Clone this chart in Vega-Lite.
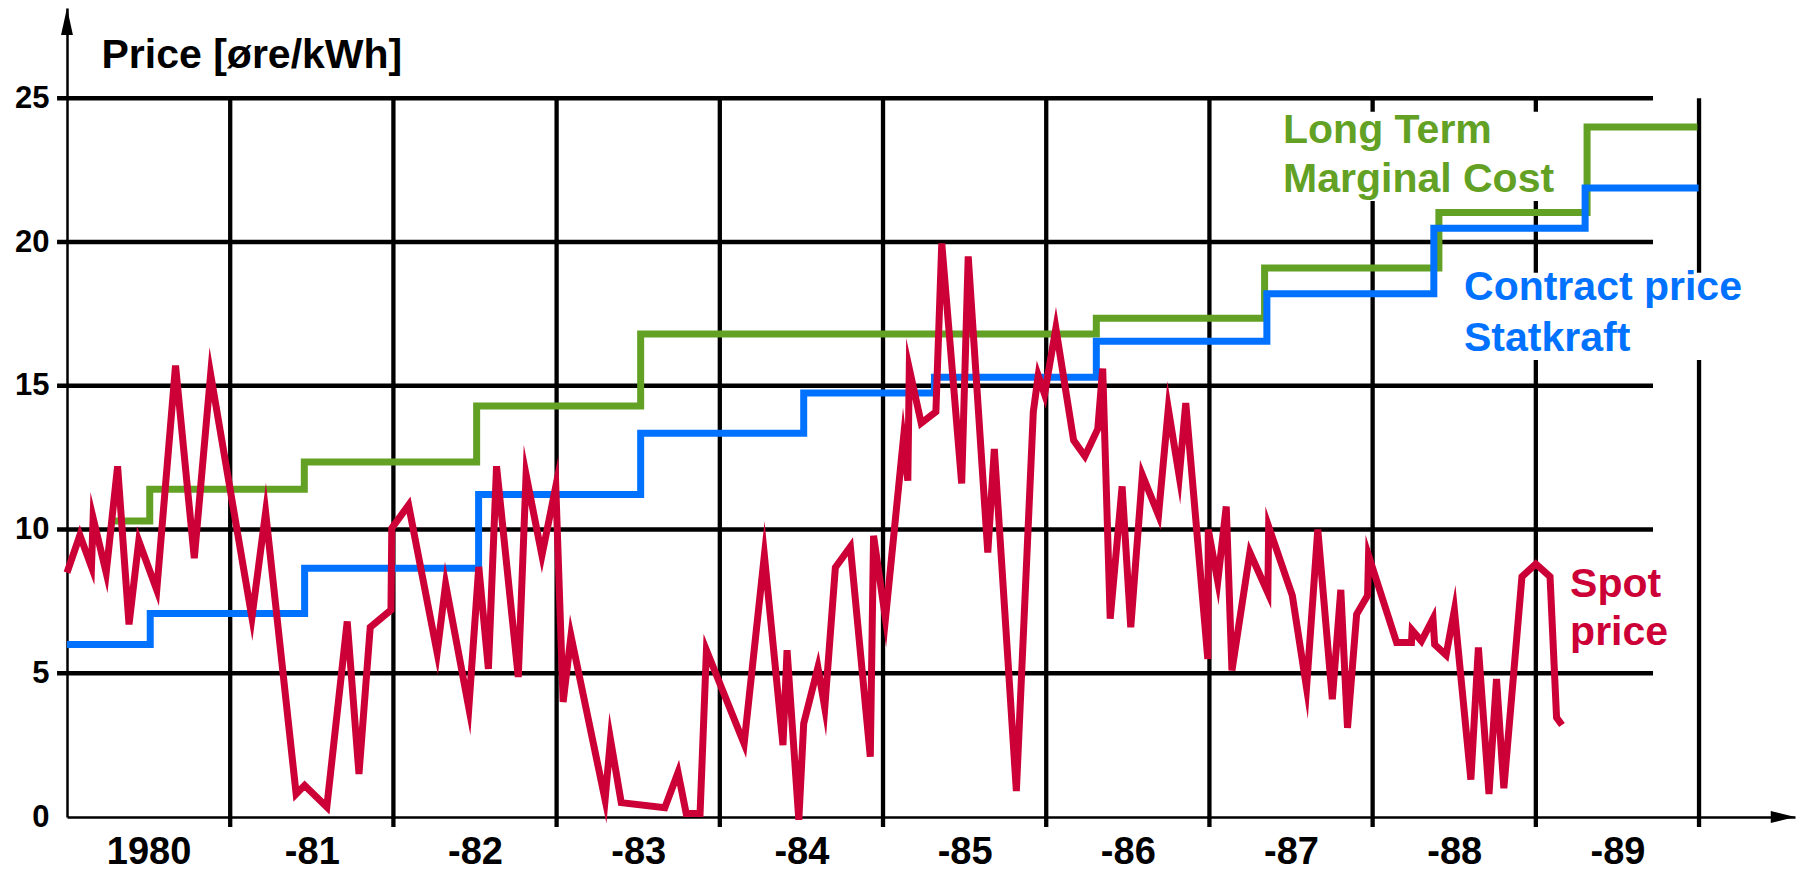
{
  "$schema": "https://vega.github.io/schema/vega-lite/v6.json",
  "width": 1728,
  "height": 809,
  "padding": {"left": 67, "top": 8, "right": 8, "bottom": 55},
  "autosize": {"type": "none"},
  "background": "white",
  "config": {
    "view": {"stroke": null},
    "font": "Liberation Sans"
  },
  "resolve": {"axis": {"x": "independent", "y": "independent"}},
  "datasets": {
    "gridYears": [{"year": 1981}, {"year": 1982}, {"year": 1983}, {"year": 1984}, {"year": 1985}, {"year": 1986}, {"year": 1987}, {"year": 1988}, {"year": 1989}, {"year": 1990}],
    "gridLevels": [{"level": 5}, {"level": 10}, {"level": 15}, {"level": 20}, {"level": 25}],
    "prices": [
      {"series": "Long Term Marginal Cost", "year": 1980.27, "price": 10.3},
      {"series": "Long Term Marginal Cost", "year": 1980.507, "price": 11.4},
      {"series": "Long Term Marginal Cost", "year": 1981.454, "price": 12.35},
      {"series": "Long Term Marginal Cost", "year": 1982.51, "price": 14.3},
      {"series": "Long Term Marginal Cost", "year": 1983.515, "price": 16.8},
      {"series": "Long Term Marginal Cost", "year": 1986.307, "price": 17.35},
      {"series": "Long Term Marginal Cost", "year": 1987.338, "price": 19.1},
      {"series": "Long Term Marginal Cost", "year": 1988.406, "price": 21.03},
      {"series": "Long Term Marginal Cost", "year": 1989.314, "price": 24.0},
      {"series": "Long Term Marginal Cost", "year": 1989.99, "price": 24.0},
      {"series": "Contract price Statkraft", "year": 1980.0, "price": 6.0},
      {"series": "Contract price Statkraft", "year": 1980.51, "price": 7.08},
      {"series": "Contract price Statkraft", "year": 1981.456, "price": 8.65},
      {"series": "Contract price Statkraft", "year": 1982.522, "price": 11.22},
      {"series": "Contract price Statkraft", "year": 1983.515, "price": 13.35},
      {"series": "Contract price Statkraft", "year": 1984.514, "price": 14.75},
      {"series": "Contract price Statkraft", "year": 1985.315, "price": 15.3},
      {"series": "Contract price Statkraft", "year": 1986.307, "price": 16.55},
      {"series": "Contract price Statkraft", "year": 1987.352, "price": 18.2},
      {"series": "Contract price Statkraft", "year": 1988.375, "price": 20.48},
      {"series": "Contract price Statkraft", "year": 1989.302, "price": 21.88},
      {"series": "Contract price Statkraft", "year": 1989.997, "price": 21.88},
      {"series": "Spot price", "year": 1980.0, "price": 8.5},
      {"series": "Spot price", "year": 1980.079, "price": 9.8},
      {"series": "Spot price", "year": 1980.15, "price": 8.7},
      {"series": "Spot price", "year": 1980.16, "price": 10.4},
      {"series": "Spot price", "year": 1980.24, "price": 8.5},
      {"series": "Spot price", "year": 1980.31, "price": 12.2},
      {"series": "Spot price", "year": 1980.38, "price": 6.7},
      {"series": "Spot price", "year": 1980.44, "price": 9.6},
      {"series": "Spot price", "year": 1980.55, "price": 7.9},
      {"series": "Spot price", "year": 1980.665, "price": 15.7},
      {"series": "Spot price", "year": 1980.78, "price": 9.0},
      {"series": "Spot price", "year": 1980.88, "price": 15.4},
      {"series": "Spot price", "year": 1981.133, "price": 6.94},
      {"series": "Spot price", "year": 1981.217, "price": 10.6},
      {"series": "Spot price", "year": 1981.404, "price": 0.8},
      {"series": "Spot price", "year": 1981.456, "price": 1.1},
      {"series": "Spot price", "year": 1981.592, "price": 0.35},
      {"series": "Spot price", "year": 1981.717, "price": 6.8},
      {"series": "Spot price", "year": 1981.789, "price": 1.5},
      {"series": "Spot price", "year": 1981.858, "price": 6.6},
      {"series": "Spot price", "year": 1981.985, "price": 7.2},
      {"series": "Spot price", "year": 1981.99, "price": 10.05},
      {"series": "Spot price", "year": 1982.093, "price": 10.85},
      {"series": "Spot price", "year": 1982.268, "price": 5.72},
      {"series": "Spot price", "year": 1982.32, "price": 8.1},
      {"series": "Spot price", "year": 1982.462, "price": 3.8},
      {"series": "Spot price", "year": 1982.523, "price": 8.7},
      {"series": "Spot price", "year": 1982.582, "price": 5.15},
      {"series": "Spot price", "year": 1982.632, "price": 12.2},
      {"series": "Spot price", "year": 1982.765, "price": 4.87},
      {"series": "Spot price", "year": 1982.813, "price": 11.9},
      {"series": "Spot price", "year": 1982.91, "price": 9.1},
      {"series": "Spot price", "year": 1982.995, "price": 11.5},
      {"series": "Spot price", "year": 1983.04, "price": 4.0},
      {"series": "Spot price", "year": 1983.088, "price": 6.3},
      {"series": "Spot price", "year": 1983.297, "price": 0.6},
      {"series": "Spot price", "year": 1983.33, "price": 2.7},
      {"series": "Spot price", "year": 1983.396, "price": 0.5},
      {"series": "Spot price", "year": 1983.663, "price": 0.32},
      {"series": "Spot price", "year": 1983.744, "price": 1.55},
      {"series": "Spot price", "year": 1983.794, "price": 0.12},
      {"series": "Spot price", "year": 1983.879, "price": 0.12},
      {"series": "Spot price", "year": 1983.918, "price": 5.8},
      {"series": "Spot price", "year": 1984.149, "price": 2.55},
      {"series": "Spot price", "year": 1984.273, "price": 9.1},
      {"series": "Spot price", "year": 1984.387, "price": 2.5},
      {"series": "Spot price", "year": 1984.412, "price": 5.8},
      {"series": "Spot price", "year": 1984.484, "price": -0.1},
      {"series": "Spot price", "year": 1984.514, "price": 3.25},
      {"series": "Spot price", "year": 1984.601, "price": 5.2},
      {"series": "Spot price", "year": 1984.643, "price": 3.8},
      {"series": "Spot price", "year": 1984.708, "price": 8.68},
      {"series": "Spot price", "year": 1984.8, "price": 9.4},
      {"series": "Spot price", "year": 1984.922, "price": 2.1},
      {"series": "Spot price", "year": 1984.942, "price": 9.78},
      {"series": "Spot price", "year": 1985.015, "price": 6.9},
      {"series": "Spot price", "year": 1985.124, "price": 13.1},
      {"series": "Spot price", "year": 1985.152, "price": 11.7},
      {"series": "Spot price", "year": 1985.161, "price": 15.6},
      {"series": "Spot price", "year": 1985.234, "price": 13.7},
      {"series": "Spot price", "year": 1985.324, "price": 14.1},
      {"series": "Spot price", "year": 1985.36, "price": 19.95},
      {"series": "Spot price", "year": 1985.482, "price": 11.6},
      {"series": "Spot price", "year": 1985.522, "price": 19.5},
      {"series": "Spot price", "year": 1985.642, "price": 9.2},
      {"series": "Spot price", "year": 1985.682, "price": 12.8},
      {"series": "Spot price", "year": 1985.817, "price": 0.9},
      {"series": "Spot price", "year": 1985.921, "price": 14.1},
      {"series": "Spot price", "year": 1985.951, "price": 15.35},
      {"series": "Spot price", "year": 1985.99, "price": 14.7},
      {"series": "Spot price", "year": 1986.059, "price": 17.0},
      {"series": "Spot price", "year": 1986.168, "price": 13.1},
      {"series": "Spot price", "year": 1986.237, "price": 12.55},
      {"series": "Spot price", "year": 1986.316, "price": 13.5},
      {"series": "Spot price", "year": 1986.346, "price": 15.6},
      {"series": "Spot price", "year": 1986.392, "price": 6.9},
      {"series": "Spot price", "year": 1986.465, "price": 11.5},
      {"series": "Spot price", "year": 1986.518, "price": 6.6},
      {"series": "Spot price", "year": 1986.589, "price": 11.9},
      {"series": "Spot price", "year": 1986.688, "price": 10.5},
      {"series": "Spot price", "year": 1986.748, "price": 14.2},
      {"series": "Spot price", "year": 1986.815, "price": 11.85},
      {"series": "Spot price", "year": 1986.855, "price": 14.4},
      {"series": "Spot price", "year": 1986.99, "price": 5.5},
      {"series": "Spot price", "year": 1986.993, "price": 10.0},
      {"series": "Spot price", "year": 1987.051, "price": 8.2},
      {"series": "Spot price", "year": 1987.103, "price": 10.8},
      {"series": "Spot price", "year": 1987.138, "price": 5.1},
      {"series": "Spot price", "year": 1987.248, "price": 9.2},
      {"series": "Spot price", "year": 1987.358, "price": 7.8},
      {"series": "Spot price", "year": 1987.363, "price": 10.1},
      {"series": "Spot price", "year": 1987.508, "price": 7.7},
      {"series": "Spot price", "year": 1987.595, "price": 4.5},
      {"series": "Spot price", "year": 1987.664, "price": 10.0},
      {"series": "Spot price", "year": 1987.753, "price": 4.1},
      {"series": "Spot price", "year": 1987.805, "price": 7.9},
      {"series": "Spot price", "year": 1987.846, "price": 3.1},
      {"series": "Spot price", "year": 1987.902, "price": 7.05},
      {"series": "Spot price", "year": 1987.969, "price": 7.7},
      {"series": "Spot price", "year": 1987.975, "price": 9.1},
      {"series": "Spot price", "year": 1988.147, "price": 6.07},
      {"series": "Spot price", "year": 1988.238, "price": 6.07},
      {"series": "Spot price", "year": 1988.242, "price": 6.5},
      {"series": "Spot price", "year": 1988.299, "price": 6.12},
      {"series": "Spot price", "year": 1988.37, "price": 6.9},
      {"series": "Spot price", "year": 1988.38, "price": 6.0},
      {"series": "Spot price", "year": 1988.45, "price": 5.63},
      {"series": "Spot price", "year": 1988.501, "price": 7.2},
      {"series": "Spot price", "year": 1988.602, "price": 1.3},
      {"series": "Spot price", "year": 1988.648, "price": 5.9},
      {"series": "Spot price", "year": 1988.713, "price": 0.8},
      {"series": "Spot price", "year": 1988.759, "price": 4.8},
      {"series": "Spot price", "year": 1988.804, "price": 1.0},
      {"series": "Spot price", "year": 1988.915, "price": 8.36},
      {"series": "Spot price", "year": 1989.0, "price": 8.8},
      {"series": "Spot price", "year": 1989.087, "price": 8.36},
      {"series": "Spot price", "year": 1989.127, "price": 3.46},
      {"series": "Spot price", "year": 1989.16, "price": 3.2}
    ]
  },
  "layer": [
    {
      "data": {"name": "gridYears"},
      "mark": {"type": "rule", "color": "black", "strokeWidth": 4.3},
      "encoding": {
        "x": {"field": "year", "type": "quantitative", "scale": {"domain": [1980, 1990.588], "nice": false, "zero": false}, "axis": null},
        "y": {"datum": -0.35, "type": "quantitative", "scale": {"domain": [0, 28.14], "nice": false, "zero": false}, "axis": null},
        "y2": {"datum": 25}
      }
    },
    {
      "data": {"name": "gridLevels"},
      "mark": {"type": "rule", "color": "black", "strokeWidth": 4.3},
      "encoding": {
        "y": {"field": "level", "type": "quantitative", "scale": {"domain": [0, 28.14], "nice": false, "zero": false}, "axis": null},
        "x": {"datum": 1979.939, "type": "quantitative", "scale": {"domain": [1980, 1990.588], "nice": false, "zero": false}, "axis": null},
        "x2": {"datum": 1989.718}
      }
    },
    {
      "data": {"values": [{}]},
      "mark": {"type": "rect", "color": "white"},
      "encoding": {
        "x": {"datum": 1987.371, "type": "quantitative", "scale": {"domain": [1980, 1990.588], "nice": false, "zero": false}, "axis": null},
        "x2": {"datum": 1989.148},
        "y": {"datum": 24.53, "type": "quantitative", "scale": {"domain": [0, 28.14], "nice": false, "zero": false}, "axis": null},
        "y2": {"datum": 21.43}
      }
    },
    {
      "data": {"values": [{}]},
      "mark": {"type": "rect", "color": "white"},
      "encoding": {
        "x": {"datum": 1988.505, "type": "quantitative", "scale": {"domain": [1980, 1990.588], "nice": false, "zero": false}, "axis": null},
        "x2": {"datum": 1990.55},
        "y": {"datum": 18.93, "type": "quantitative", "scale": {"domain": [0, 28.14], "nice": false, "zero": false}, "axis": null},
        "y2": {"datum": 15.9}
      }
    },
    {
      "data": {"name": "prices"},
      "transform": [{"filter": "datum.series === 'Long Term Marginal Cost'"}],
      "mark": {"type": "line", "interpolate": "step-after", "color": "#62a124", "strokeWidth": 7, "strokeJoin": "miter", "strokeCap": "butt"},
      "encoding": {
        "x": {"field": "year", "type": "quantitative", "scale": {"domain": [1980, 1990.588], "nice": false, "zero": false}, "axis": null},
        "y": {"field": "price", "type": "quantitative", "scale": {"domain": [0, 28.14], "nice": false, "zero": false}, "axis": null}
      }
    },
    {
      "data": {"name": "prices"},
      "transform": [{"filter": "datum.series === 'Contract price Statkraft'"}],
      "mark": {"type": "line", "interpolate": "step-after", "color": "#0072ff", "strokeWidth": 7, "strokeJoin": "miter", "strokeCap": "butt"},
      "encoding": {
        "x": {"field": "year", "type": "quantitative", "scale": {"domain": [1980, 1990.588], "nice": false, "zero": false}, "axis": null},
        "y": {"field": "price", "type": "quantitative", "scale": {"domain": [0, 28.14], "nice": false, "zero": false}, "axis": null}
      }
    },
    {
      "data": {"name": "prices"},
      "transform": [{"filter": "datum.series === 'Spot price'"}],
      "mark": {"type": "line", "color": "#cc0036", "strokeWidth": 7, "strokeJoin": "miter", "strokeMiterLimit": 10, "strokeCap": "butt"},
      "encoding": {
        "x": {
          "field": "year", "type": "quantitative",
          "scale": {"domain": [1980, 1990.588], "nice": false, "zero": false},
          "axis": {
            "values": [1980.5, 1981.5, 1982.5, 1983.5, 1984.5, 1985.5, 1986.5, 1987.5, 1988.5, 1989.5],
            "labelExpr": "floor(datum.value) == 1980 ? '1980' : '-' + (floor(datum.value) - 1900)",
            "ticks": false, "grid": false, "domain": true, "domainColor": "black", "domainWidth": 2.5,
            "labelFont": "Liberation Sans", "labelFontSize": 38, "labelFontWeight": "bold", "labelColor": "black",
            "labelPadding": 16, "labelFlush": false, "labelOverlap": false, "title": null
          }
        },
        "y": {
          "field": "price", "type": "quantitative",
          "scale": {"domain": [0, 28.14], "nice": false, "zero": false},
          "axis": {
            "values": [0, 5, 10, 15, 20, 25],
            "ticks": false, "grid": false, "domain": true, "domainColor": "black", "domainWidth": 2.5,
            "labelFont": "Liberation Sans", "labelFontSize": 31, "labelFontWeight": "bold", "labelColor": "black",
            "labelPadding": 18, "labelFlush": false, "labelOverlap": false,
            "title": "Price [øre/kWh]", "titleAngle": 0, "titleAlign": "left", "titleBaseline": "alphabetic",
            "titleX": 34, "titleY": 59, "titleFont": "Liberation Sans", "titleFontSize": 41, "titleFontWeight": "bold", "titleColor": "black"
          }
        }
      }
    },
    {
      "data": {"values": [{}]},
      "mark": {"type": "text", "text": ["Long Term", "Marginal Cost"], "align": "left", "baseline": "alphabetic", "font": "Liberation Sans", "fontSize": 41, "fontWeight": "bold", "color": "#62a124", "lineHeight": 48.5},
      "encoding": {
        "x": {"datum": 1987.451, "type": "quantitative", "scale": {"domain": [1980, 1990.588], "nice": false, "zero": false}, "axis": null},
        "y": {"datum": 23.43, "type": "quantitative", "scale": {"domain": [0, 28.14], "nice": false, "zero": false}, "axis": null}
      }
    },
    {
      "data": {"values": [{}]},
      "mark": {"type": "text", "text": ["Contract price", "Statkraft"], "align": "left", "baseline": "alphabetic", "font": "Liberation Sans", "fontSize": 41, "fontWeight": "bold", "color": "#0072ff", "lineHeight": 50.5},
      "encoding": {
        "x": {"datum": 1988.56, "type": "quantitative", "scale": {"domain": [1980, 1990.588], "nice": false, "zero": false}, "axis": null},
        "y": {"datum": 17.98, "type": "quantitative", "scale": {"domain": [0, 28.14], "nice": false, "zero": false}, "axis": null}
      }
    },
    {
      "data": {"values": [{}]},
      "mark": {"type": "text", "text": ["Spot", "price"], "align": "left", "baseline": "alphabetic", "font": "Liberation Sans", "fontSize": 41, "fontWeight": "bold", "color": "#cc0036", "lineHeight": 48},
      "encoding": {
        "x": {"datum": 1989.21, "type": "quantitative", "scale": {"domain": [1980, 1990.588], "nice": false, "zero": false}, "axis": null},
        "y": {"datum": 7.65, "type": "quantitative", "scale": {"domain": [0, 28.14], "nice": false, "zero": false}, "axis": null}
      }
    },
    {
      "data": {"values": [{}]},
      "mark": {"type": "point", "shape": "M0,-1L0.22,0L-0.22,0Z", "filled": true, "color": "black", "size": 2916, "opacity": 1, "strokeWidth": 0},
      "encoding": {
        "x": {"datum": 1980, "type": "quantitative", "scale": {"domain": [1980, 1990.588], "nice": false, "zero": false}, "axis": null},
        "y": {"datum": 27.2, "type": "quantitative", "scale": {"domain": [0, 28.14], "nice": false, "zero": false}, "axis": null}
      }
    },
    {
      "data": {"values": [{}]},
      "mark": {"type": "point", "shape": "M1,0L0.1,-0.22L0.1,0.22Z", "filled": true, "color": "black", "size": 2916, "opacity": 1, "strokeWidth": 0},
      "encoding": {
        "x": {"datum": 1990.423, "type": "quantitative", "scale": {"domain": [1980, 1990.588], "nice": false, "zero": false}, "axis": null},
        "y": {"datum": 0, "type": "quantitative", "scale": {"domain": [0, 28.14], "nice": false, "zero": false}, "axis": null}
      }
    }
  ]
}
